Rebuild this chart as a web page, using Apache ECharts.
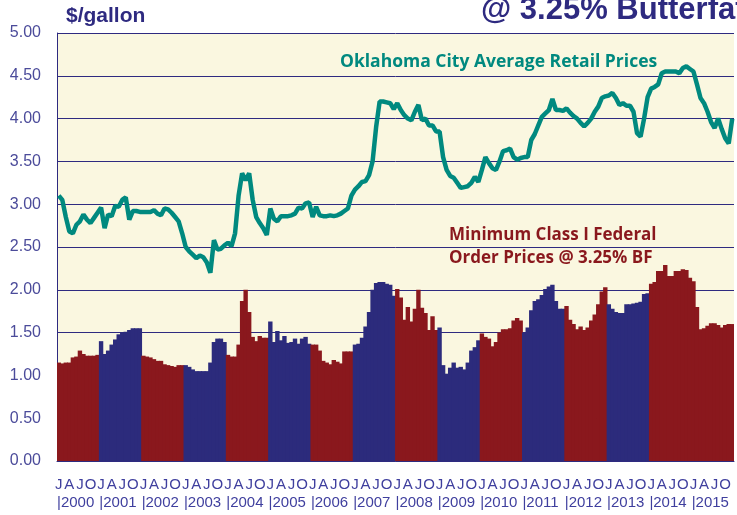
<!DOCTYPE html>
<html>
<head>
<meta charset="utf-8">
<script src="https://cdn.jsdelivr.net/npm/echarts@6/dist/echarts.min.js"></script>
<style>
  body { margin: 0; background: #fff; }
  #chart { width: 737px; height: 515px; }
</style>
</head>
<body>
<div id="chart"></div>
<script>
// years on the axis, one bar / point per month
const years = [2000, 2001, 2002, 2003, 2004, 2005, 2006, 2007, 2008, 2009, 2010, 2011, 2012, 2013, 2014, 2015]
const monthLetters = ['J', 'F', 'M', 'A', 'M', 'J', 'J', 'A', 'S', 'O', 'N', 'D']
const blueYears = [2001, 2003, 2005, 2007, 2009, 2011, 2013]
const yTicks = [0, 0.5, 1, 1.5, 2, 2.5, 3, 3.5, 4, 4.5, 5]

// Oklahoma City average retail price, $/gallon
const retail = [
  3.10, 3.05, 2.85, 2.68, 2.66, 2.76, 2.80, 2.88, 2.82, 2.78, 2.84, 2.90,
  2.96, 2.72, 2.88, 2.86, 2.98, 2.97, 3.05, 3.08, 2.82, 2.92, 2.92, 2.91,
  2.91, 2.91, 2.91, 2.93, 2.89, 2.87, 2.95, 2.94, 2.90, 2.85, 2.80, 2.66,
  2.50, 2.45, 2.41, 2.37, 2.40, 2.38, 2.32, 2.20, 2.58, 2.47, 2.48, 2.52,
  2.55, 2.51, 2.66, 3.10, 3.36, 3.28, 3.36, 3.05, 2.85, 2.78, 2.72, 2.64,
  2.95, 2.83, 2.80, 2.86, 2.86, 2.86, 2.87, 2.89, 2.96, 2.95, 3.01, 3.02,
  2.85, 2.97, 2.87, 2.86, 2.86, 2.87, 2.86, 2.87, 2.89, 2.92, 2.95, 3.10,
  3.17, 3.21, 3.26, 3.27, 3.34, 3.50, 3.90, 4.20, 4.20, 4.19, 4.18, 4.11,
  4.18, 4.10, 4.04, 4.00, 3.98, 4.08, 4.16, 3.98, 4.00, 3.92, 3.92, 3.85,
  3.85, 3.55, 3.40, 3.33, 3.31, 3.25, 3.19, 3.20, 3.21, 3.25, 3.32, 3.26,
  3.40, 3.55, 3.48, 3.42, 3.40, 3.50, 3.62, 3.63, 3.65, 3.55, 3.52, 3.54,
  3.55, 3.55, 3.75, 3.82, 3.92, 4.02, 4.06, 4.10, 4.23, 4.10, 4.10, 4.09,
  4.12, 4.07, 4.03, 4.00, 3.95, 3.91, 3.95, 4.00, 4.08, 4.14, 4.24, 4.26,
  4.27, 4.30, 4.24, 4.16, 4.18, 4.15, 4.15, 4.08, 3.83, 3.79, 4.00, 4.25,
  4.35, 4.37, 4.40, 4.53, 4.55, 4.55, 4.55, 4.55, 4.53, 4.59, 4.61, 4.58,
  4.55, 4.40, 4.24, 4.18, 4.08, 3.96, 3.89, 4.00, 3.88, 3.77, 3.71, 4.00
]

// minimum class I federal order price @ 3.25% BF, $/gallon
const federal = [
  1.15, 1.14, 1.15, 1.15, 1.21, 1.22, 1.29, 1.25, 1.23, 1.23, 1.23, 1.24,
  1.40, 1.25, 1.29, 1.36, 1.42, 1.48, 1.50, 1.51, 1.53, 1.55, 1.55, 1.55,
  1.23, 1.22, 1.21, 1.19, 1.17, 1.17, 1.13, 1.12, 1.11, 1.10, 1.12, 1.12,
  1.12, 1.10, 1.07, 1.05, 1.05, 1.05, 1.05, 1.15, 1.39, 1.43, 1.43, 1.39,
  1.24, 1.22, 1.22, 1.36, 1.87, 2.00, 1.74, 1.45, 1.40, 1.46, 1.44, 1.44,
  1.63, 1.39, 1.52, 1.41, 1.46, 1.38, 1.39, 1.43, 1.37, 1.43, 1.45, 1.37,
  1.36, 1.36, 1.29, 1.17, 1.15, 1.13, 1.18, 1.16, 1.14, 1.28, 1.28, 1.28,
  1.36, 1.37, 1.44, 1.57, 1.74, 2.00, 2.08, 2.09, 2.09, 2.07, 2.06, 1.93,
  2.01, 1.91, 1.65, 1.80, 1.63, 1.78, 2.00, 1.79, 1.73, 1.53, 1.69, 1.53,
  1.56, 1.12, 1.02, 1.09, 1.15, 1.09, 1.10, 1.07, 1.15, 1.29, 1.33, 1.41,
  1.49, 1.45, 1.43, 1.34, 1.39, 1.50, 1.54, 1.54, 1.55, 1.64, 1.67, 1.64,
  1.50, 1.56, 1.76, 1.87, 1.89, 1.94, 2.01, 2.04, 2.06, 1.87, 1.78, 1.78,
  1.81, 1.65, 1.60, 1.54, 1.57, 1.53, 1.56, 1.64, 1.71, 1.83, 1.98, 2.03,
  1.83, 1.78, 1.74, 1.73, 1.73, 1.83, 1.83, 1.84, 1.85, 1.86, 1.95, 1.96,
  2.07, 2.09, 2.22, 2.22, 2.29, 2.16, 2.16, 2.22, 2.22, 2.24, 2.23, 2.14,
  2.10, 1.80, 1.54, 1.55, 1.58, 1.61, 1.61, 1.59, 1.56, 1.59, 1.60, 1.60
]

const RED = '#8a181d'
const BLUE = '#2c2b7c'
const NAVY = '#2e2a80'
const TEAL = '#00897f'

const months = []
years.forEach(y => monthLetters.forEach((m, i) => months.push(y + '-' + (i + 1))))

// colour alternates by year, 2014 and 2015 both red
const barData = federal.map((v, i) => {
  const yr = years[Math.floor(i / 12)]
  return { value: v, itemStyle: { color: blueYears.includes(yr) ? BLUE : RED } }
})

const chart = echarts.init(document.getElementById('chart'), null, { renderer: 'canvas' })

const option = {
  animation: false,
  grid: {
    left: 57, right: 0, top: 33, bottom: 54,
    show: true, backgroundColor: '#faf7e0', borderWidth: 0
  },
  xAxis: [{
    type: 'category',
    data: months,
    boundaryGap: true,
    axisLine: { lineStyle: { color: NAVY, width: 1 } },
    axisTick: { interval: 0, length: 5, lineStyle: { color: '#333' } },
    axisLabel: {
      interval: i => i % 3 === 0,
      formatter: (v, i) => monthLetters[i % 12],
      color: '#3f3f9e', fontFamily: 'Liberation Sans', fontSize: 15, margin: 16
    },
    splitLine: { show: false }
  }, {
    type: 'value',
    min: 0, max: 192, interval: 12,
    position: 'bottom',
    axisLine: { show: false },
    axisTick: { show: false },
    splitLine: { show: false },
    axisLabel: {
      formatter: v => v < 192 ? '|' + years[v / 12] : '',
      align: 'left',
      color: '#3f3f9e', fontFamily: 'Liberation Sans', fontSize: 15, margin: 34
    }
  }],
  yAxis: {
    type: 'value',
    min: yTicks[0], max: yTicks[yTicks.length - 1], interval: 0.5,
    axisLine: { show: true, lineStyle: { color: NAVY, width: 1 } },
    axisTick: { show: false },
    axisLabel: {
      formatter: v => v.toFixed(2),
      color: '#4b4b9a', fontFamily: 'Liberation Sans', fontSize: 16, margin: 16
    },
    splitLine: { lineStyle: { color: NAVY, width: 1 } }
  },
  series: [{
    name: 'Minimum Class I Federal Order Prices @ 3.25% BF',
    type: 'bar',
    data: barData,
    barWidth: 4.4,   // a bit wider than the band so neighbours overlap, no seams
    z: 2
  }, {
    name: 'Oklahoma City Average Retail Prices',
    type: 'line',
    data: retail,
    showSymbol: false,
    lineStyle: { color: TEAL, width: 4.5 },
    itemStyle: { color: TEAL },
    z: 3
  }],
  graphic: [{
    type: 'text', left: 66, top: 6,
    style: { text: '$/gallon', font: 'bold 21px "Liberation Sans"', fill: NAVY }
  }, {
    type: 'text', left: 481, top: -5,
    style: { text: '@ 3.25% Butterfat', font: 'bold 31px "Liberation Sans"', fill: NAVY }
  }, {
    type: 'text', left: 340, top: 53,
    style: { text: 'Oklahoma City Average Retail Prices', font: 'bold 17.5px "Open Sans"', fill: TEAL }
  }, {
    type: 'text', left: 449, top: 224,
    style: {
      text: 'Minimum Class I Federal\nOrder Prices @ 3.25% BF',
      font: 'bold 17px "Open Sans"', fill: RED, lineHeight: 23
    }
  }]
}

chart.setOption(option)
</script>
</body>
</html>
